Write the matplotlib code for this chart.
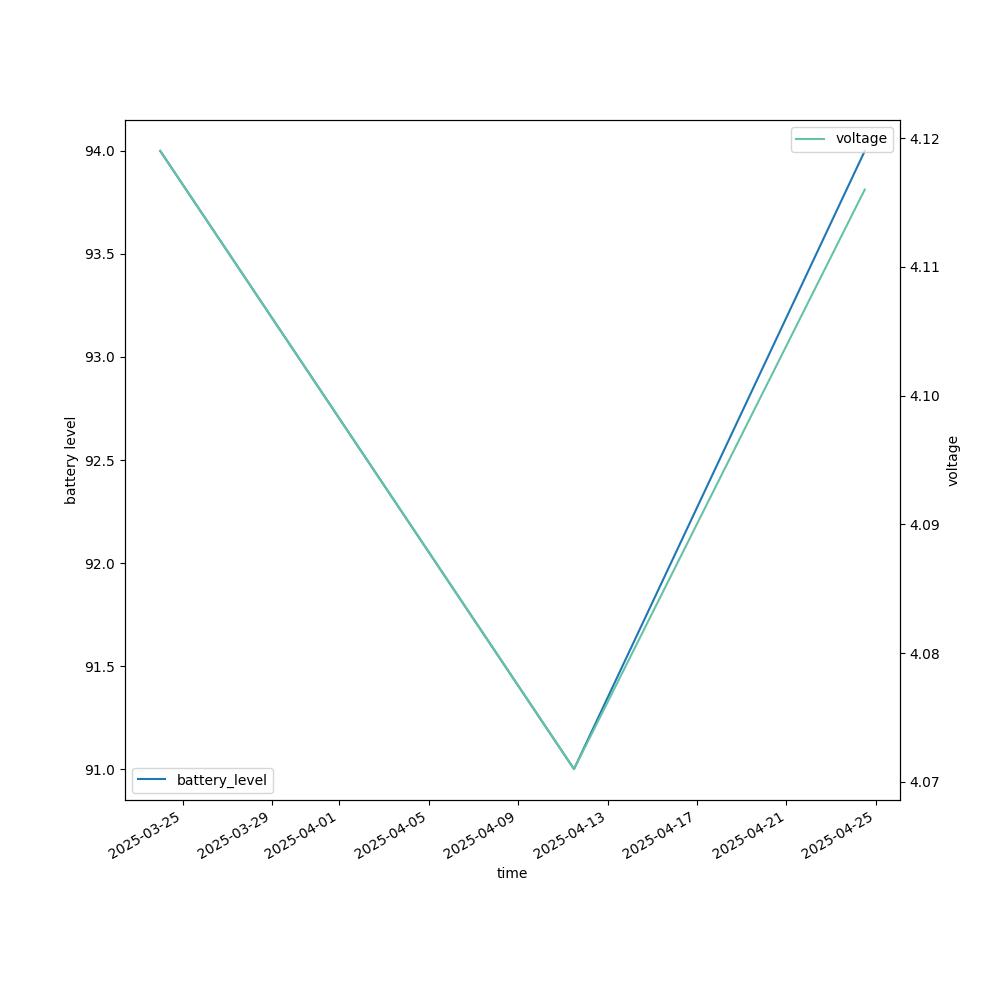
import matplotlib
matplotlib.use("Agg")
import matplotlib.pyplot as plt
import pandas as pd

# readings
time = pd.to_datetime(["2025-03-24 00:00", "2025-04-11 12:00", "2025-04-24 12:00"])
battery_level = [94.0, 91.0, 94.0]
voltage = [4.119, 4.071, 4.116]

fig, ax = plt.subplots(figsize=(10, 10), dpi=100)

ax.plot(time, battery_level, color="#1f77b4", label="battery_level")
ax.set_xlabel("time")
ax.set_ylabel("battery level")
ax.legend(loc="lower left")

ax2 = ax.twinx()
ax2.plot(time, voltage, color="#66c2a5", label="voltage")
ax2.set_ylabel("voltage")
ax2.legend(loc="upper right")

fig.autofmt_xdate()
plt.savefig("out.png")
